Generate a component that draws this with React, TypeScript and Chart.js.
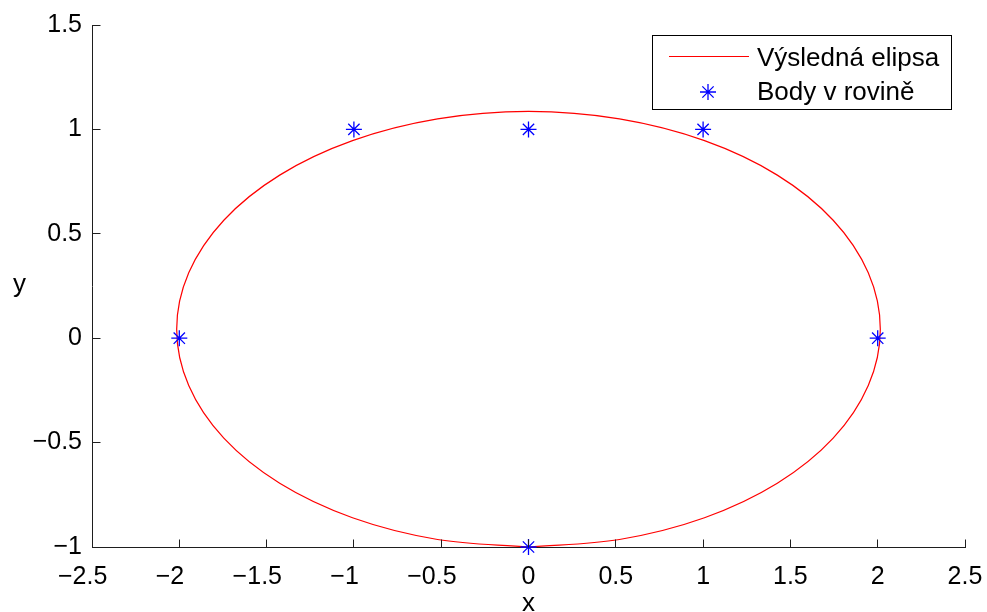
import React, { useEffect, useRef } from 'react';
import { Chart, registerables } from 'chart.js';

Chart.register(...registerables);

// Data points in the plane
const POINT_X = [-2, 2, 0, 0, -1, 1];
const POINT_Y = [0, 0, -1, 1, 1, 1];

// Resulting ellipse (counter-clockwise from the bottom)
const ELLIPSE_X = [0, 0.521, 1.008, 1.425, 1.745, 1.946, 2.015, 1.946, 1.745, 1.425, 1.008, 0.521, 0, -0.521, -1.008, -1.425, -1.745, -1.946, -2.015, -1.946, -1.745, -1.425, -1.008, -0.521, 0];
const ELLIPSE_Y = [-1.0, -0.964, -0.86, -0.695, -0.479, -0.227, 0.043, 0.313, 0.565, 0.781, 0.946, 1.05, 1.086, 1.05, 0.946, 0.781, 0.565, 0.313, 0.043, -0.227, -0.479, -0.695, -0.86, -0.964, -1.0];

const X_TICKS = [-2.5, -2, -1.5, -1, -0.5, 0, 0.5, 1, 1.5, 2, 2.5];
const Y_TICKS = [-1, -0.5, 0, 0.5, 1, 1.5];
const LEGEND_LABELS = ['Výsledná elipsa', 'Body v rovině'];
const X_TITLE = 'x';
const Y_TITLE = 'y';

const FONT = '"Liberation Sans", Arial, Helvetica, sans-serif';
const AXIS_COLOR = '#1e1e1e';
const LINE_COLOR = '#ff0000';
const POINT_COLOR = '#0000ff';
const TICK_FONT = 25;
const TEXT_FONT = 26;
const TICK_LEN = 8;
const STAR_R = 8;

const fmt = (v: number) => {
  const r = Math.round(v * 100) / 100;
  return (r < 0 ? '\u2212' : '') + String(Math.abs(r));
};

function drawStar(ctx: CanvasRenderingContext2D, x: number, y: number, r: number) {
  const d = Math.cos(Math.PI / 4) * r;
  ctx.beginPath();
  ctx.moveTo(x - r, y);
  ctx.lineTo(x + r, y);
  ctx.moveTo(x, y - r);
  ctx.lineTo(x, y + r);
  ctx.moveTo(x - d, y - d);
  ctx.lineTo(x + d, y + d);
  ctx.moveTo(x - d, y + d);
  ctx.lineTo(x + d, y - d);
  ctx.stroke();
}

const decorPlugin = {
  id: 'decor',
  afterDraw(chart: any) {
    const { ctx, chartArea: ca, scales } = chart;
    const xs = scales.x;
    const ys = scales.y;
    ctx.save();

    // inward tick marks
    ctx.strokeStyle = AXIS_COLOR;
    ctx.lineWidth = 1;
    ctx.beginPath();
    const bottom = Math.round(ca.bottom - 0.5) + 0.5;
    const left = Math.round(ca.left - 0.5) + 0.5;
    for (const v of X_TICKS) {
      const px = Math.round(xs.getPixelForValue(v) - 0.5) + 0.5;
      ctx.moveTo(px, bottom);
      ctx.lineTo(px, bottom - TICK_LEN);
    }
    for (const v of Y_TICKS) {
      const py = Math.round(ys.getPixelForValue(v) - 0.5) + 0.5;
      ctx.moveTo(left, py);
      ctx.lineTo(left + TICK_LEN, py);
    }
    ctx.stroke();

    // x tick labels (digits centred on the tick, minus hangs left)
    ctx.fillStyle = '#000';
    ctx.font = `${TICK_FONT}px ${FONT}`;
    ctx.textAlign = 'left';
    ctx.textBaseline = 'alphabetic';
    for (const v of X_TICKS) {
      const s = fmt(v);
      const neg = s.startsWith('\u2212');
      const digits = neg ? s.slice(1) : s;
      const dw = ctx.measureText(digits).width;
      const mw = neg ? ctx.measureText('\u2212').width : 0;
      const px = xs.getPixelForValue(v);
      ctx.fillText(s, px - dw / 2 - mw - (neg ? 2 : 0), ca.bottom + 37);
    }

    // axis titles
    ctx.font = `${TEXT_FONT}px ${FONT}`;
    ctx.textAlign = 'center';
    ctx.fillText(X_TITLE, (ca.left + ca.right) / 2, ca.bottom + 64);
    ctx.fillText(Y_TITLE, 19.5, (ca.top + ca.bottom) / 2 + 6);

    // legend
    const bx = 652.5, by = 35.5, bw = 299, bh = 74;
    ctx.fillStyle = '#fff';
    ctx.fillRect(bx, by, bw, bh);
    ctx.strokeStyle = '#000';
    ctx.lineWidth = 1;
    ctx.strokeRect(bx, by, bw, bh);

    ctx.strokeStyle = LINE_COLOR;
    ctx.lineWidth = 1.2;
    ctx.beginPath();
    ctx.moveTo(669, 56.5);
    ctx.lineTo(749, 56.5);
    ctx.stroke();

    ctx.strokeStyle = POINT_COLOR;
    ctx.lineWidth = 1.3;
    drawStar(ctx, 708, 92, STAR_R);

    ctx.fillStyle = '#000';
    ctx.font = `${TEXT_FONT}px ${FONT}`;
    ctx.textAlign = 'left';
    ctx.fillText(LEGEND_LABELS[0], 757, 66);
    ctx.fillText(LEGEND_LABELS[1], 757, 100);

    ctx.restore();
  },
};

export default function App() {
  const ref = useRef<HTMLCanvasElement>(null);

  useEffect(() => {
    const canvas = ref.current;
    if (!canvas) return;
    const chart = new Chart(canvas, {
      type: 'scatter',
      data: {
        datasets: [
          {
            label: LEGEND_LABELS[0],
            data: ELLIPSE_X.map((x, i) => ({ x, y: ELLIPSE_Y[i] })),
            showLine: true,
            borderColor: LINE_COLOR,
            backgroundColor: LINE_COLOR,
            borderWidth: 1.2,
            pointRadius: 0,
            tension: 0.34,
            fill: false,
            order: 2,
            clip: false,
          } as any,
          {
            label: LEGEND_LABELS[1],
            data: POINT_X.map((x, i) => ({ x, y: POINT_Y[i] })),
            showLine: false,
            pointStyle: 'star',
            pointRadius: STAR_R,
            borderColor: POINT_COLOR,
            backgroundColor: POINT_COLOR,
            borderWidth: 1.3,
            order: 1,
            clip: false,
          } as any,
        ],
      },
      options: {
        animation: false,
        responsive: false,
        events: [],
        layout: { padding: { left: 0, top: 22, right: 22, bottom: 0 } },
        plugins: {
          legend: { display: false },
          tooltip: { enabled: false },
        },
        scales: {
          x: {
            type: 'linear',
            min: -2.5,
            max: 2.5,
            afterBuildTicks: (s: any) => {
              s.ticks = X_TICKS.map((value) => ({ value }));
            },
            afterFit: (s: any) => {
              s.height = 65;
            },
            grid: { display: false, drawTicks: false },
            border: { display: true, color: AXIS_COLOR, width: 1 },
            ticks: { display: false },
          },
          y: {
            type: 'linear',
            min: -1,
            max: 1.5,
            afterBuildTicks: (s: any) => {
              s.ticks = Y_TICKS.map((value) => ({ value }));
            },
            afterFit: (s: any) => {
              s.width = 92;
            },
            grid: { display: false, drawTicks: false },
            border: { display: true, color: AXIS_COLOR, width: 1 },
            ticks: {
              color: '#000',
              padding: 10,
              font: { family: FONT, size: TICK_FONT },
              callback: (v: any) => fmt(Number(v)),
            },
          },
        },
      },
      plugins: [decorPlugin],
    });
    return () => chart.destroy();
  }, []);

  return (
    <div style={{ position: 'absolute', left: 0, top: 0, width: 987, height: 612, background: '#fff' }}>
      <canvas ref={ref} width={987} height={612} style={{ display: 'block' }} />
    </div>
  );
}
